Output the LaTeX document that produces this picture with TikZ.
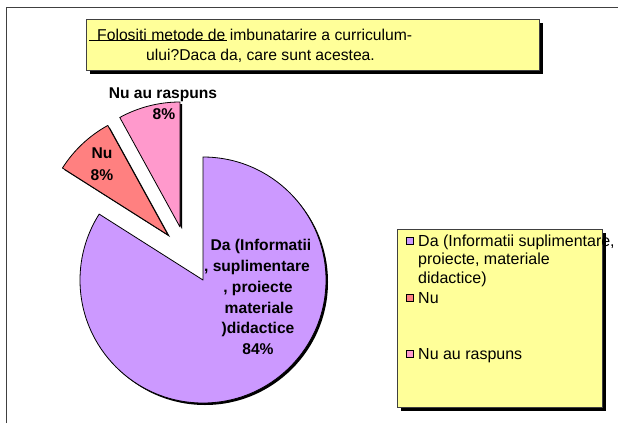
\documentclass[tikz,border=0pt]{standalone}
\usepackage{fontspec}
\setmainfont{Liberation Sans}
\definecolor{pieDa}{HTML}{CC99FF}
\definecolor{pieNu}{HTML}{FF8080}
\definecolor{pieNR}{HTML}{FF99CC}
\definecolor{boxY}{HTML}{FFFF99}
\definecolor{frameC}{HTML}{404040}
\tikzset{
  slice/.style={draw=black, line width=0.8pt, line join=round},
  shade/.style={fill=black},
  boxstyle/.style={fill=boxY, draw=frameC, line width=0.8pt},
  lbl/.style={font=\fontsize{15.6}{18}\selectfont\bfseries, anchor=base, inner sep=0pt},
  ttl/.style={font=\fontsize{15.7}{18}\selectfont, anchor=base west, inner sep=0pt},
  leg/.style={font=\fontsize{16}{18.3}\selectfont, anchor=base west, inner sep=0pt},
  legsq/.style={draw=black, line width=0.6pt, minimum size=7pt, inner sep=0pt},
}
\begin{document}
\begin{tikzpicture}[x=1pt, y=-1pt]
\useasboundingbox (0,0) rectangle (618,423);
% outer frame
\draw[frameC, line width=1.3pt] (6.5,423) -- (6.5,7.5) -- (618,7.5);
% title box
\fill[black] (90,23) rectangle (543,74);
\draw[boxstyle] (86,19) rectangle (539,70);
\node[ttl] (t1) at (97,40.5) {Folositi metode de imbunatarire a curriculum-};
\node[ttl] (t2) at (146,60.5) {ului?Daca da, care sunt acestea.};
\coordinate (ulA) at (89,40.5);
\coordinate (ulB) at (227,40.5);
\draw[black, line width=1pt] (ulA) -- (ulB);
% pie shadows
\fill[shade] (205,282) -- ++(-90:123) arc[start angle=-90, end angle=212.4, radius=123] -- cycle;
\fill[shade] (170,237) -- ++(212.4:125) arc[start angle=212.4, end angle=241.2, radius=125] -- cycle;
\fill[shade] (182,229) -- ++(241.2:125) arc[start angle=241.2, end angle=270, radius=125] -- cycle;
% pie slices
\filldraw[slice, fill=pieDa] (203,280) -- ++(-90:123) arc[start angle=-90, end angle=212.4, radius=123] -- cycle;
\filldraw[slice, fill=pieNu] (168,235) -- ++(212.4:125) arc[start angle=212.4, end angle=241.2, radius=125] -- cycle;
\filldraw[slice, fill=pieNR] (180,227) -- ++(241.2:125) arc[start angle=241.2, end angle=270, radius=125] -- cycle;
% pie labels
\node[lbl] (nr1) at (163,98.6) {Nu au raspuns};
\node[lbl] (nr2) at (164,119.6) {8\%};
\node[lbl] (nu1) at (102,158.6) {Nu};
\node[lbl] (nu2) at (102,180.6) {8\%};
\node[lbl] (da1) at (261,250.6) {Da (Informatii};
\node[lbl] (da2) at (257,271.4) {, suplimentare};
\node[lbl] (da3) at (258,292.2) {, proiecte};
\node[lbl] (da4) at (259,313) {materiale};
\node[lbl] (da5) at (258,333.8) {)didactice};
\node[lbl] (da6) at (258,354.6) {84\%};
% legend
\fill[black] (401,233) rectangle (606,411);
\draw[boxstyle] (397,229) rectangle (602,407);
\node[legsq, fill=pieDa] (sq1) at (409.5,241) {};
\node[legsq, fill=pieNu] (sq2) at (409.5,298) {};
\node[legsq, fill=pieNR] (sq3) at (409.5,354) {};
\node[leg] (l1a) at (418,246.6) {Da (Informatii suplimentare,};
\node[leg] (l1b) at (418,264.9) {proiecte, materiale};
\node[leg] (l1c) at (418,283.2) {didactice)};
\node[leg] (l2) at (418,303.6) {Nu};
\node[leg] (l3) at (418,359.6) {Nu au raspuns};
\end{tikzpicture}
\end{document}
